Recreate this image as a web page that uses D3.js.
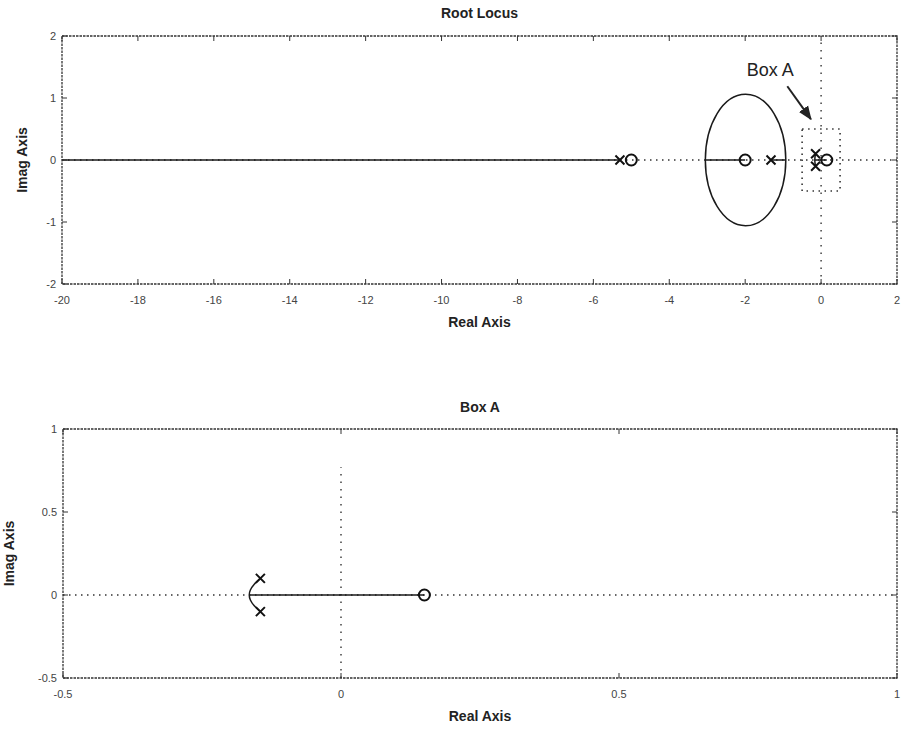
<!DOCTYPE html>
<html>
<head>
<meta charset="utf-8">
<script src="https://cdn.jsdelivr.net/npm/d3@7"></script>
<style>
  html, body { margin: 0; padding: 0; background: #fff; }
  svg { display: block; }
  text { font-family: "Liberation Sans", Arial, sans-serif; fill: #222; }
</style>
</head>
<body>
<svg id="chart" width="908" height="733"></svg>
<script>
// ---- system data (real, imag) ----
const poles = [[-5.3, 0], [-1.32, 0], [-0.145, 0.1], [-0.145, -0.1]];
const zeros = [[-5.0, 0], [-2.0, 0], [0.15, 0]];

// root-locus branches on the real axis and the complex pair near the origin
const branchFar = [[-20, 0], [-5.3, 0]];
const branchMidLeft = [[-3.05, 0], [-2.0, 0]];
const branchMidRight = [[-1.32, 0], [-0.93, 0]];
const branchArc = [[-0.145, 0.1], [-0.156, 0.065], [-0.163, 0.03], [-0.165, 0], [-0.163, -0.03], [-0.156, -0.065], [-0.145, -0.1]];
const branchNear = [[-0.165, 0], [0.15, 0]];

// breakaway / break-in circle: centre and radius (real units)
const loopCenter = [-1.99, 0];
const loopRadius = 1.06;

// zoom window marked in the full view
const boxA = { x0: -0.5, x1: 0.5, y0: -0.5, y1: 0.5 };
const boxLabel = { text: "Box A", x: -1.34, y: 1.35 };
const boxArrow = [[-0.89, 1.19], [-0.27, 0.66]];

// axis ticks
const topXTicks = [-20, -18, -16, -14, -12, -10, -8, -6, -4, -2, 0, 2];
const topYTicks = [-2, -1, 0, 1, 2];
const botXTicks = [-0.5, 0, 0.5, 1];
const botYTicks = [-0.5, 0, 0.5, 1];

// dotted reference lines through the origin
const topGuides = { h: [-20, 2], v: [-2, 2] };
const botGuides = { h: [-0.5, 1], v: [-0.5, 0.77] };

const svg = d3.select("#chart");

const defs = svg.append("defs");
defs.append("marker")
  .attr("id", "arrowhead")
  .attr("viewBox", "0 0 10 10")
  .attr("refX", 9).attr("refY", 5)
  .attr("markerWidth", 7).attr("markerHeight", 7)
  .attr("orient", "auto")
  .append("path").attr("d", "M0,1 L10,5 L0,9 Z").attr("fill", "#222");

function fmt(v) {
  return String(v);
}

function panel(cfg) {
  const x = d3.scaleLinear().domain(cfg.xDomain).range([cfg.left, cfg.right]);
  const y = d3.scaleLinear().domain(cfg.yDomain).range([cfg.bottom, cfg.top]);
  const g = svg.append("g");

  const clipId = "clip-" + cfg.id;
  defs.append("clipPath").attr("id", clipId)
    .append("rect")
    .attr("x", cfg.left).attr("y", cfg.top)
    .attr("width", cfg.right - cfg.left).attr("height", cfg.bottom - cfg.top);

  const plot = g.append("g").attr("clip-path", `url(#${clipId})`);

  // dotted lines through origin
  plot.append("line")
    .attr("x1", x(cfg.guides.h[0])).attr("x2", x(cfg.guides.h[1]))
    .attr("y1", y(0)).attr("y2", y(0))
    .attr("stroke", "#333").attr("stroke-width", 1.4)
    .attr("stroke-dasharray", "1.5,4.5");
  plot.append("line")
    .attr("x1", x(0)).attr("x2", x(0))
    .attr("y1", y(cfg.guides.v[0])).attr("y2", y(cfg.guides.v[1]))
    .attr("stroke", "#333").attr("stroke-width", 1.4)
    .attr("stroke-dasharray", "1.5,6");

  const line = d3.line().x(d => x(d[0])).y(d => y(d[1]));
  const curve = d3.line().x(d => x(d[0])).y(d => y(d[1])).curve(d3.curveNatural);

  [branchFar, branchMidLeft, branchMidRight, branchNear].forEach(b => {
    plot.append("path").attr("d", line(b))
      .attr("fill", "none").attr("stroke", "#1a1a1a").attr("stroke-width", 1.5);
  });
  plot.append("path").attr("d", curve(branchArc))
    .attr("fill", "none").attr("stroke", "#1a1a1a").attr("stroke-width", 1.5);

  plot.append("ellipse")
    .attr("cx", x(loopCenter[0])).attr("cy", y(loopCenter[1]))
    .attr("rx", x(loopCenter[0] + loopRadius) - x(loopCenter[0]))
    .attr("ry", y(loopCenter[1]) - y(loopCenter[1] + loopRadius))
    .attr("fill", "none").attr("stroke", "#1a1a1a").attr("stroke-width", 1.5);

  if (cfg.showBox) {
    plot.append("rect")
      .attr("x", x(boxA.x0)).attr("y", y(boxA.y1))
      .attr("width", x(boxA.x1) - x(boxA.x0))
      .attr("height", y(boxA.y0) - y(boxA.y1))
      .attr("fill", "none").attr("stroke", "#333").attr("stroke-width", 1.6)
      .attr("stroke-dasharray", "1.5,4.5");
    g.append("path").attr("d", line(boxArrow))
      .attr("stroke", "#222").attr("stroke-width", 2)
      .attr("marker-end", "url(#arrowhead)");
    g.append("text")
      .attr("x", x(boxLabel.x)).attr("y", y(boxLabel.y))
      .attr("text-anchor", "middle")
      .style("font-size", "18px")
      .text(boxLabel.text);
  }

  // poles (x) and zeros (o)
  const s = 4.5;
  plot.selectAll(null).data(poles).join("path")
    .attr("d", d => {
      const px = x(d[0]), py = y(d[1]);
      return `M${px - s},${py - s}L${px + s},${py + s}M${px - s},${py + s}L${px + s},${py - s}`;
    })
    .attr("stroke", "#111").attr("stroke-width", 2).attr("fill", "none");
  plot.selectAll(null).data(zeros).join("circle")
    .attr("cx", d => x(d[0])).attr("cy", d => y(d[1])).attr("r", 5.5)
    .attr("fill", "none").attr("stroke", "#111").attr("stroke-width", 2);

  // frame
  g.append("rect")
    .attr("x", cfg.left).attr("y", cfg.top)
    .attr("width", cfg.right - cfg.left).attr("height", cfg.bottom - cfg.top)
    .attr("fill", "none").attr("stroke", "#333").attr("stroke-width", 1.3)
    .attr("stroke-dasharray", "2.5,1");

  // inward ticks on all four sides
  const tl = 5;
  const xt = g.append("g");
  cfg.xTicks.forEach(t => {
    const px = x(t);
    xt.append("line").attr("x1", px).attr("x2", px)
      .attr("y1", cfg.bottom).attr("y2", cfg.bottom - tl)
      .attr("stroke", "#333").attr("stroke-width", 1);
    xt.append("line").attr("x1", px).attr("x2", px)
      .attr("y1", cfg.top).attr("y2", cfg.top + tl)
      .attr("stroke", "#333").attr("stroke-width", 1);
    xt.append("text").attr("x", px).attr("y", cfg.bottom + cfg.xLabelGap)
      .attr("text-anchor", "middle").style("font-size", "11px").style("fill", "#444")
      .text(fmt(t));
  });
  cfg.yTicks.forEach(t => {
    const py = y(t);
    xt.append("line").attr("x1", cfg.left).attr("x2", cfg.left + tl)
      .attr("y1", py).attr("y2", py)
      .attr("stroke", "#333").attr("stroke-width", 1);
    xt.append("line").attr("x1", cfg.right).attr("x2", cfg.right - tl)
      .attr("y1", py).attr("y2", py)
      .attr("stroke", "#333").attr("stroke-width", 1);
    xt.append("text").attr("x", cfg.left - 6).attr("y", py + 4)
      .attr("text-anchor", "end").style("font-size", "11px").style("fill", "#444")
      .text(fmt(t));
  });

  // titles
  g.append("text").attr("x", (cfg.left + cfg.right) / 2).attr("y", cfg.titleY)
    .attr("text-anchor", "middle").style("font-size", "14px").style("font-weight", "bold")
    .text(cfg.title);
  g.append("text").attr("x", (cfg.left + cfg.right) / 2).attr("y", cfg.xTitleY)
    .attr("text-anchor", "middle").style("font-size", "14px").style("font-weight", "bold")
    .text("Real Axis");
  g.append("text")
    .attr("transform", `translate(${cfg.yTitleX},${(cfg.top + cfg.bottom) / 2}) rotate(-90)`)
    .attr("text-anchor", "middle").style("font-size", "14px").style("font-weight", "bold")
    .text("Imag Axis");
}

panel({
  id: "top", title: "Root Locus",
  xDomain: [-20, 2], yDomain: [-2, 2],
  left: 62, right: 897, top: 36, bottom: 284,
  xTicks: topXTicks, yTicks: topYTicks, guides: topGuides,
  xLabelGap: 20, titleY: 18, xTitleY: 327, yTitleX: 27,
  showBox: true
});

panel({
  id: "bot", title: "Box A",
  xDomain: [-0.5, 1], yDomain: [-0.5, 1],
  left: 63, right: 897, top: 429, bottom: 678,
  xTicks: botXTicks, yTicks: botYTicks, guides: botGuides,
  xLabelGap: 20, titleY: 412, xTitleY: 721, yTitleX: 14,
  showBox: false
});
</script>
</body>
</html>
